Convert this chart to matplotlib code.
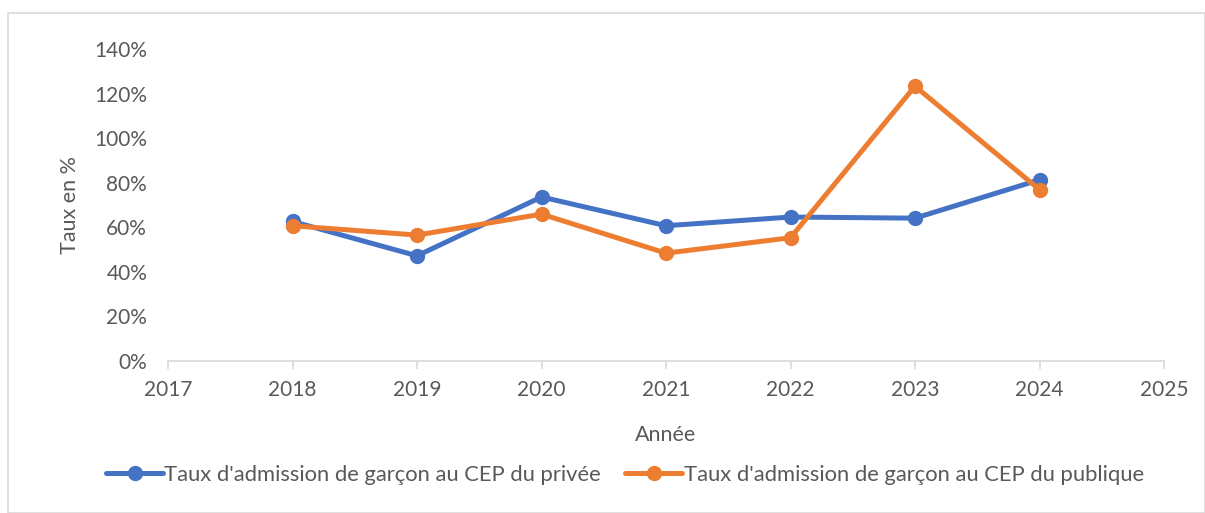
import matplotlib
matplotlib.use("Agg")
import matplotlib.pyplot as plt
from matplotlib.ticker import FuncFormatter, MultipleLocator
from matplotlib.patches import Rectangle

years = [2018, 2019, 2020, 2021, 2022, 2023, 2024]
prive = [62.6, 47.2, 73.6, 60.7, 64.6, 64.1, 81.3]
publique = [60.7, 56.5, 65.9, 48.4, 55.3, 123.3, 76.9]
label_prive = "Taux d'admission de garçon au CEP du privée"
label_publique = "Taux d'admission de garçon au CEP du publique"

plt.rcParams['font.family'] = ['Lato', 'DejaVu Sans']
grey = '#595959'

fig = plt.figure(figsize=(12.05, 5.13), dpi=100)
fig.patches.append(Rectangle((8/1205, 0), 1-8/1205, 1-13/513, transform=fig.transFigure,
                             fill=False, edgecolor='#d9d9d9', linewidth=1.2))
ax = fig.add_axes([168/1205, 1-361/513, (1164-168)/1205, (361-49)/513])

ax.plot(years, prive, color='#4472C4', linewidth=3.6, marker='o', markersize=10,
        label=label_prive, solid_capstyle='round', zorder=3)
ax.plot(years, publique, color='#ED7D31', linewidth=3.6, marker='o', markersize=10,
        label=label_publique, solid_capstyle='round', zorder=4)

ax.set_xlim(2017, 2025)
ax.set_ylim(0, 140)
ax.set_xticks(range(2017, 2026))
ax.yaxis.set_major_locator(MultipleLocator(20))
ax.yaxis.set_major_formatter(FuncFormatter(lambda v, p: f"{int(round(v))}%"))

for s in ['top', 'right', 'left']:
    ax.spines[s].set_visible(False)
ax.spines['bottom'].set_color('#d9d9d9')
ax.spines['bottom'].set_linewidth(1.2)
ax.tick_params(axis='x', colors='#d9d9d9', labelcolor=grey, labelsize=15, length=6, width=1.2, pad=8)
ax.tick_params(axis='y', length=0, labelcolor=grey, labelsize=15, pad=15)
for line in ax.lines:
    line.set_clip_on(False)

ax.set_xlabel("Année", color=grey, fontsize=15.5, labelpad=18)
ax.set_ylabel("Taux en %", color=grey, fontsize=15.5, labelpad=10)

leg = fig.legend(loc='center', bbox_to_anchor=(625/1205, 1-475/513), ncol=2, frameon=False,
                 fontsize=15.8, handlelength=2.6, handletextpad=0.05, columnspacing=1.1,
                 labelcolor=grey)

fig.savefig("out.png", dpi=100)
